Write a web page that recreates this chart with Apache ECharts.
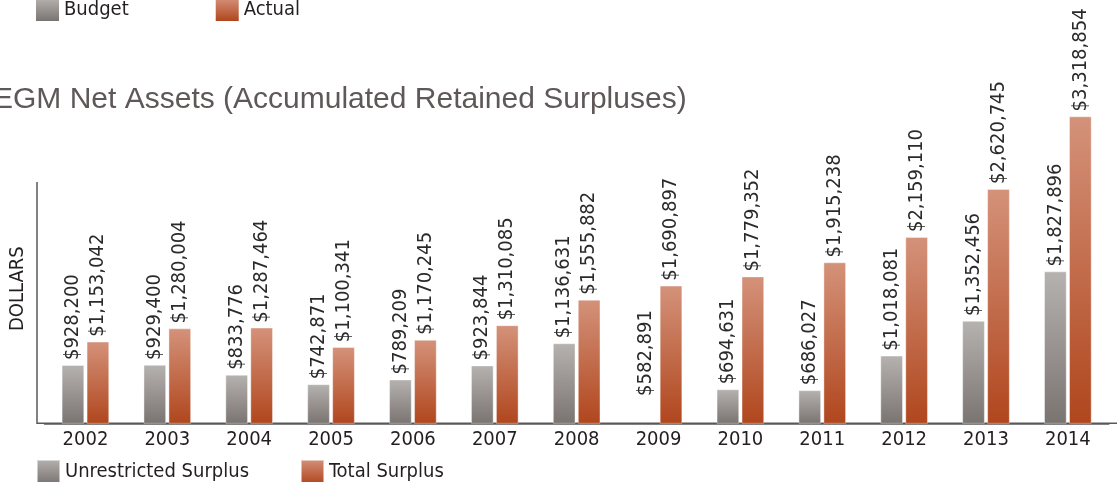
<!DOCTYPE html>
<html>
<head>
<meta charset="utf-8">
<script src="https://cdn.jsdelivr.net/npm/echarts@6/dist/echarts.min.js"></script>
<style>
html,body{margin:0;padding:0;background:#fff;}
#c{width:1117px;height:482px;}
</style>
</head>
<body>
<div id="c"></div>
<script>
const years = ['2002','2003','2004','2005','2006','2007','2008','2009','2010','2011','2012','2013','2014'];
const unrestrictedSurplus = [928200, 929400, 833776, 742871, 789209, 923844, 1136631, 582891, 694631, 686027, 1018081, 1352456, 1827896];
const totalSurplus = [1153042, 1280004, 1287464, 1100341, 1170245, 1310085, 1555882, 1690897, 1779352, 1915238, 2159110, 2620745, 3318854];
const hiddenUnrestricted = ['2009'];

const narrow = '"Liberation Sans Narrow", "Arial Narrow", "DejaVu Sans Condensed", sans-serif';
const grayGrad = {type:'linear',x:0,y:0,x2:0,y2:1,colorStops:[{offset:0,color:'#b6b2b0'},{offset:1,color:'#7a7471'}]};
const orangeGrad = {type:'linear',x:0,y:0,x2:0,y2:1,colorStops:[{offset:0,color:'#d4927a'},{offset:1,color:'#b0461d'}]};
const fmt = v => '$' + Number(v).toLocaleString('en-US');

const chart = echarts.init(document.getElementById('c'), null, {renderer:'canvas'});
const labelCfg = {
  show:true, position:'top', rotate:90, align:'left', verticalAlign:'middle', distance:5,
  fontFamily:narrow, fontSize:20, color:'#2a2a2a',
  formatter: p => fmt(p.value)
};
chart.setOption({
  animation:false,
  title:{
    text:'EGM Net Assets (Accumulated Retained Surpluses)',
    left:-12, top:80,
    textStyle:{fontFamily:'"Liberation Sans", Arial, sans-serif', fontSize:30, fontWeight:'normal', color:'#5e5958'}
  },
  legend:[
    {data:['Budget','Actual'], left:36, top:-2, itemWidth:23, itemHeight:23, itemGap:87, padding:0,
     icon:'rect', textStyle:{fontFamily:narrow, fontSize:20, color:'#231f20'}},
    {data:['Unrestricted Surplus','Total Surplus'], left:36, top:459, itemWidth:23, itemHeight:23, itemGap:51, padding:0,
     icon:'rect', textStyle:{fontFamily:narrow, fontSize:20, color:'#231f20'}}
  ],
  grid:{left:41.5, right:8.2, top:100, bottom:58.7, containLabel:false},
  xAxis:{
    type:'category', data:years,
    axisLine:{lineStyle:{color:'#58595b', width:1.5}},
    axisTick:{show:false},
    axisLabel:{fontFamily:narrow, fontSize:20, color:'#231f20', margin:6}
  },
  yAxis:{
    type:'value', min:368000, max:3476700, offset:4.5,
    name:'DOLLARS', nameLocation:'middle', nameGap:12, nameRotate:90,
    nameTextStyle:{fontFamily:narrow, fontSize:20, color:'#231f20', padding:[0,54,0,0]},
    axisLine:{show:false},
    axisTick:{show:false}, axisLabel:{show:false}, splitLine:{show:false}
  },
  graphic:[
    {type:'line', shape:{x1:37, y1:182, x2:37, y2:424}, style:{stroke:'#58595b', lineWidth:1.5}, silent:true},
    {type:'line', shape:{x1:37, y1:423.3, x2:1117, y2:423.3}, style:{stroke:'#58595b', lineWidth:1.5}, silent:true}
  ],
  series:[
    {name:'Unrestricted Surplus', type:'bar', stack:'g', barWidth:22.5, barGap:'11%',
     itemStyle:{color:grayGrad, borderColor:'rgba(255,255,255,0.5)', borderWidth:0.8},
     label:labelCfg,
     data: unrestrictedSurplus.map((v,i)=> hiddenUnrestricted.includes(years[i]) ? {value:v, itemStyle:{color:'rgba(0,0,0,0)', borderWidth:0}} : v)},
    {name:'Total Surplus', type:'bar', stack:'o', barWidth:22.5, barGap:'11%',
     itemStyle:{color:orangeGrad, borderColor:'rgba(255,255,255,0.5)', borderWidth:0.8},
     label:labelCfg,
     data: totalSurplus},
    {name:'Budget', type:'bar', stack:'g', data:[], itemStyle:{color:grayGrad}},
    {name:'Actual', type:'bar', stack:'o', data:[], itemStyle:{color:orangeGrad}}
  ]
});
</script>
</body>
</html>
